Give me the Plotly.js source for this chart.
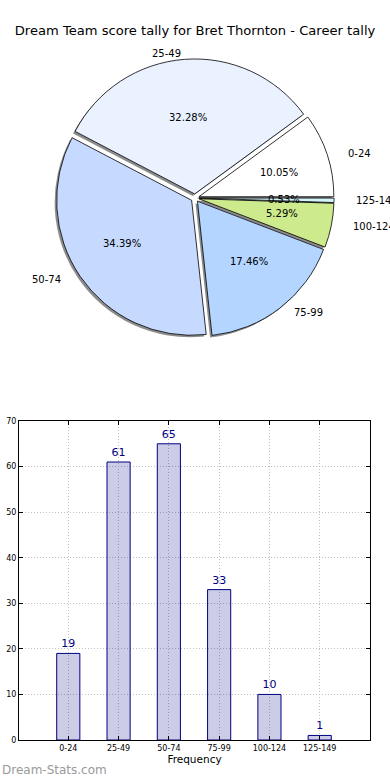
<!DOCTYPE html>
<html><head><meta charset="utf-8">
<script src="https://cdn.plot.ly/plotly-3.0.1.min.js"></script>
<style>html,body{margin:0;padding:0;background:#fff}#chart{width:390px;height:780px}</style>
</head><body><div id="chart"></div>
<script>
const categories = ['0-24','25-49','50-74','75-99','100-124','125-149'];
const counts = [19, 61, 65, 33, 10, 1];
const sliceColors = ['#ffffff','#eaf1ff','#c6d9ff','#b4d5ff','#cdea8d','#d4f6fb'];
const yTicks = [0,10,20,30,40,50,60,70];
const chartTitle = 'Dream Team score tally for Bret Thornton - Career tally';
const xTitle = 'Frequency';
const watermark = 'Dream-Stats.com';

const W = 390, H = 780;
const px = v => v / W;
const py = v => 1 - v / H;
const FONT = 'DejaVu Sans, sans-serif';

const total = counts.reduce((a, b) => a + b, 0);
// first slice starts at 3 o'clock and runs counterclockwise
const startRotation = 90 - 360 * counts[0] / total;

const pieCx = 195, pieCy = 198, pieR = 135, pullFrac = 0.03;
const textRx = 141, textRy = 128;           // label placement radii
const half = pieR * (1 + pullFrac);
const dom = (dx, dy) => ({x: [px(pieCx - half + dx), px(pieCx + half + dx)], y: [py(pieCy + half + dy), py(pieCy - half + dy)]});
const pulls = categories.map(() => pullFrac);

const pieBase = {
  type: 'pie', values: counts, labels: categories, sort: false,
  direction: 'counterclockwise', rotation: startRotation, pull: pulls,
  showlegend: false, hoverinfo: 'skip', textinfo: 'none'
};

const shadow = Object.assign({}, pieBase, {
  domain: dom(-2, 2),
  marker: {colors: categories.map(() => 'rgba(0,0,0,0.45)'), line: {width: 0}}
});
const pieMain = Object.assign({}, pieBase, {
  domain: dom(0, 0),
  marker: {colors: sliceColors, line: {color: '#000000', width: 0.8}}
});

// percentage and category labels along each slice's mid-angle
const annotations = [];
let cum = 0;
counts.forEach((v, i) => {
  const mid = (cum + v / 2) / total * 2 * Math.PI;
  cum += v;
  const c = Math.cos(mid), s = Math.sin(mid);
  const pct = (100 * v / total).toFixed(2) + '%';
  const dp = pullFrac + 0.6, dl = pullFrac + 1.1;
  annotations.push({
    text: pct, xref: 'paper', yref: 'paper', showarrow: false,
    x: px(pieCx + dp * textRx * c), y: py(pieCy - dp * textRy * s),
    xanchor: 'center', yanchor: 'middle',
    font: {family: FONT, size: 10, color: '#000000'}
  });
  annotations.push({
    text: categories[i], xref: 'paper', yref: 'paper', showarrow: false,
    x: px(pieCx + dl * textRx * c), y: py(pieCy - dl * textRy * s),
    xanchor: c >= 0 ? 'left' : 'right', yanchor: 'middle',
    font: {family: FONT, size: 10, color: '#000000'}
  });
});
annotations.push({
  text: watermark, xref: 'paper', yref: 'paper', x: 0, xanchor: 'left',
  y: py(770), yanchor: 'middle', showarrow: false,
  font: {family: FONT, size: 12, color: '#9a9a9a'}
});

const bars = {
  type: 'bar', x: categories, y: counts, width: 0.46,
  marker: {color: 'rgba(0,0,128,0.2)', line: {color: '#000080', width: 1}},
  text: counts.map(String), textposition: 'outside', cliponaxis: false,
  textfont: {family: FONT, size: 11, color: '#000080'},
  showlegend: false, hoverinfo: 'skip'
};

const axisCommon = {
  showline: true, mirror: 'ticks', linecolor: '#000000', linewidth: 1,
  ticks: 'inside', ticklen: 4, tickcolor: '#000000',
  showgrid: true, gridcolor: '#c0c0c0', griddash: '1px,2px', gridwidth: 1,
  zeroline: false, tickfont: {family: FONT, size: 8, color: '#000000'}
};

const layout = {
  width: W, height: H, margin: {l: 0, r: 0, t: 0, b: 0},
  paper_bgcolor: '#ffffff', plot_bgcolor: '#ffffff',
  font: {family: FONT},
  title: {text: chartTitle, font: {family: FONT, size: 13.1, color: '#000000'},
          x: 0.5, xanchor: 'center', xref: 'paper', y: py(30), yref: 'container', yanchor: 'middle'},
  xaxis: Object.assign({}, axisCommon, {
    domain: [px(19), px(370)], type: 'category', range: [-0.98, 6],
    title: {text: xTitle, font: {family: FONT, size: 10.5, color: '#000000'}, standoff: 4}
  }),
  yaxis: Object.assign({}, axisCommon, {
    domain: [py(740), py(421)], range: [0, 70], tickvals: yTicks
  }),
  annotations: annotations
};

Plotly.newPlot('chart', [shadow, pieMain, bars], layout, {displayModeBar: false, staticPlot: true});
</script></body></html>
